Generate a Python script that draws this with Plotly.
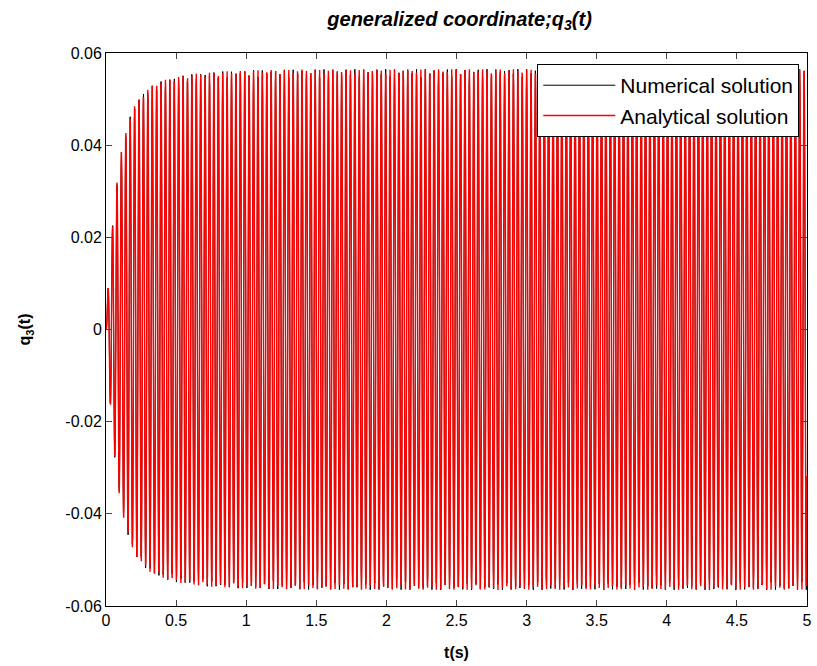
import numpy as np
import plotly.graph_objects as go

# q3 is built from two modal contributions driven at the same frequency:
# a well-damped mode carrying most of the response and a lightly damped one
# that sets the slow tail of the build-up.
omega = 200.0                 # excitation / natural frequency [rad/s]
zeta_modes = [0.0625, 0.0167]  # modal damping ratios
amp_modes = [0.0480, 0.0085]   # steady-state modal amplitudes
t_end = 5.0

dt_analytical = 0.002
dt_numerical = 0.0025

x_ticks = [0, 0.5, 1, 1.5, 2, 2.5, 3, 3.5, 4, 4.5, 5]
x_ticklabels = ["0", "0.5", "1", "1.5", "2", "2.5", "3", "3.5", "4", "4.5", "5"]
y_ticks = [-0.06, -0.04, -0.02, 0, 0.02, 0.04, 0.06]
y_ticklabels = ["-0.06", "-0.04", "-0.02", "0", "0.02", "0.04", "0.06"]

# Forcing amplitude (per unit mass) for each mode at resonance
force_modes = [X * 2 * z * omega**2 for X, z in zip(amp_modes, zeta_modes)]


def analytical(t):
    """Closed-form response of each mode from rest, summed."""
    q = np.zeros_like(t)
    for X, z in zip(amp_modes, zeta_modes):
        wd = omega * np.sqrt(1 - z**2)
        phi = np.pi / 2
        A = X * np.sin(phi)
        B = (z * omega * A - X * omega * np.cos(phi)) / wd
        xp = X * np.sin(omega * t - phi)
        xh = np.exp(-z * omega * t) * (A * np.cos(wd * t) + B * np.sin(wd * t))
        q += xp + xh
    return q


def rhs(t, y):
    out = np.empty_like(y)
    for i, (F, z) in enumerate(zip(force_modes, zeta_modes)):
        q, v = y[2 * i], y[2 * i + 1]
        out[2 * i] = v
        out[2 * i + 1] = F * np.sin(omega * t) - 2 * z * omega * v - omega**2 * q
    return out


def integrate_rk4(h, n_sub):
    n_out = int(round(t_end / (h * n_sub)))
    t_out = [0.0]
    q_out = [0.0]
    y = np.zeros(2 * len(zeta_modes))
    t = 0.0
    for _ in range(n_out):
        for _ in range(n_sub):
            k1 = rhs(t, y)
            k2 = rhs(t + h / 2, y + h / 2 * k1)
            k3 = rhs(t + h / 2, y + h / 2 * k2)
            k4 = rhs(t + h, y + h * k3)
            y = y + h / 6 * (k1 + 2 * k2 + 2 * k3 + k4)
            t += h
        t_out.append(t)
        q_out.append(y[0::2].sum())
    return np.array(t_out), np.array(q_out)


t_num, q_num = integrate_rk4(dt_numerical / 5, 5)
t_ana = np.arange(0, t_end + dt_analytical / 2, dt_analytical)
q_ana = analytical(t_ana)

FONT = "Liberation Sans, Arial, sans-serif"

fig = go.Figure()
fig.add_trace(go.Scatter(
    x=t_num, y=q_num, mode="lines", name="Numerical solution",
    line=dict(color="black", width=1, simplify=False),
))
fig.add_trace(go.Scatter(
    x=t_ana, y=q_ana, mode="lines", name="Analytical solution",
    line=dict(color="#ff0000", width=1.4, simplify=False),
))

axis_common = dict(
    showline=True, linecolor="black", linewidth=1, mirror="ticks",
    ticks="inside", ticklen=6, tickcolor="#444444", tickwidth=1,
    showgrid=False, zeroline=False,
    tickfont=dict(family=FONT, size=16, color="black"),
)

fig.update_layout(
    width=817, height=666,
    margin=dict(l=106, r=5, t=53, b=60),
    paper_bgcolor="white", plot_bgcolor="white",
    title=dict(
        text="<b><i>generalized coordinate;q<sub>3</sub>(t)</i></b>",
        x=0.5625, xanchor="center", y=0.972, yanchor="middle",
        font=dict(family=FONT, size=20, color="black"),
    ),
    xaxis=dict(
        range=[0, 5], tickvals=x_ticks, ticktext=x_ticklabels,
        title=dict(text="<b>t(s)</b>", standoff=18,
                   font=dict(family=FONT, size=16, color="black")),
        **axis_common,
    ),
    yaxis=dict(
        range=[-0.06, 0.06], tickvals=y_ticks, ticktext=y_ticklabels,
        title=dict(text="<b>q<sub>3</sub>(t)</b>", standoff=30,
                   font=dict(family=FONT, size=16, color="black")),
        **axis_common,
    ),
    legend=dict(
        x=0.989, y=0.980, xanchor="right", yanchor="top",
        bgcolor="white", bordercolor="black", borderwidth=1,
        font=dict(family=FONT, size=21, color="black"),
        itemwidth=72, tracegroupgap=2,
    ),
    showlegend=True,
)

fig.write_html("out.html")
